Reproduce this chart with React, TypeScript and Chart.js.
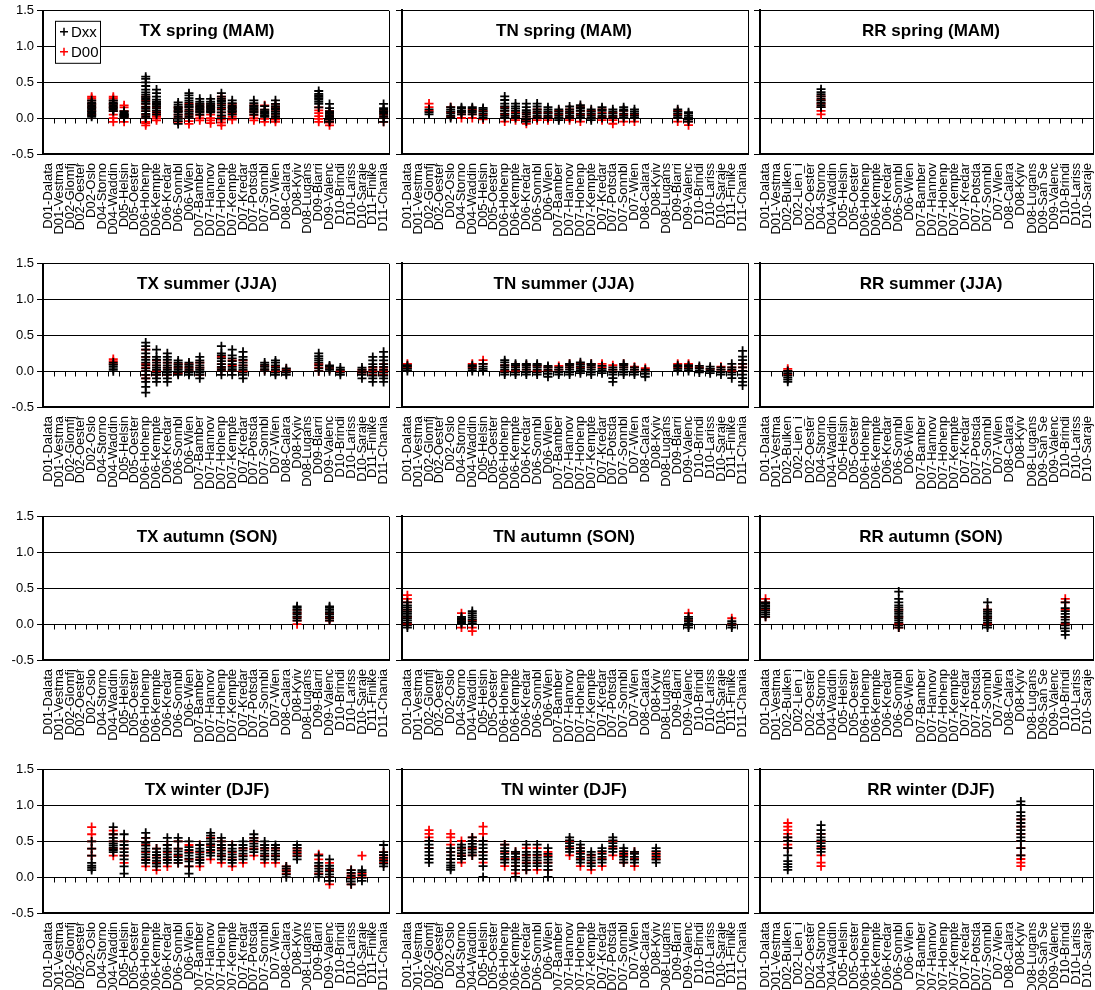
import React, { useEffect, useRef } from 'react';
import { Chart, registerables } from 'chart.js';
Chart.register(...registerables);

Chart.defaults.font.family = "'Liberation Sans', Arial, sans-serif";
Chart.defaults.color = '#000';

const TXTN_LABELS = ['D01-Dalata','D01-Vestma','D02-Glomfj','D02-Oester','D02-Oslo','D04-Storno','D04-Waddin','D05-Helsin','D05-Oester','D06-Hohenp','D06-Kempte','D06-Kredar','D06-Sonnbl','D06-Wien','D07-Bamber','D07-Hannov','D07-Hohenp','D07-Kempte','D07-Kredar','D07-Potsda','D07-Sonnbl','D07-Wien','D08-Calara','D08-Kyiv','D08-Lugans','D09-Biarri','D09-Valenc','D10-Brindi','D10-Lariss','D10-Saraje','D11-Finike','D11-Chania'];
const RR_LABELS = ['D01-Dalata','D01-Vestma','D02-Bulken','D02-Lien_i','D02-Oester','D04-Storno','D04-Waddin','D05-Helsin','D05-Oester','D06-Hohenp','D06-Kempte','D06-Kredar','D06-Sonnbl','D06-Wien','D07-Bamber','D07-Hannov','D07-Hohenp','D07-Kempte','D07-Kredar','D07-Potsda','D07-Sonnbl','D07-Wien','D08-Calara','D08-Kyiv','D08-Lugans','D09-San Se','D09-Valenc','D10-Brindi','D10-Lariss','D10-Saraje'];
const Y_MIN = -0.5;
const Y_MAX = 1.5;
const Y_STEP = 0.5;

type Cluster = [number, number[]];

// ---- spring (MAM)
const TX_MAM_DXX: Cluster[] = [
  [4, [0.02,0.04,0.06,0.08,0.1,0.12,0.14,0.16,0.18,0.2,0.22,0.25]],
  [6, [0.1,0.12,0.14,0.16,0.18,0.2,0.22,0.25]],
  [7, [0.0,0.02,0.03,0.04,0.05,0.06,0.08,0.1]],
  [9, [0.0,0.03,0.06,0.1,0.13,0.16,0.2,0.23,0.26,0.28,0.3,0.33,0.36,0.4,0.45,0.5,0.55,0.58]],
  [10, [0.05,0.08,0.11,0.14,0.17,0.19,0.21,0.23,0.26,0.3,0.35,0.4]],
  [12, [-0.08,-0.04,-0.01,0.02,0.05,0.08,0.1,0.12,0.14,0.16,0.19,0.22]],
  [13, [0.0,0.03,0.06,0.09,0.12,0.15,0.17,0.19,0.22,0.25,0.28,0.32,0.35]],
  [14, [0.05,0.08,0.1,0.12,0.14,0.16,0.18,0.2,0.23,0.27]],
  [15, [0.08,0.1,0.12,0.14,0.16,0.18,0.2,0.23,0.27]],
  [16, [0.0,0.04,0.08,0.12,0.15,0.18,0.21,0.24,0.27,0.3,0.35]],
  [17, [0.05,0.08,0.1,0.12,0.14,0.16,0.18,0.21,0.25]],
  [19, [0.05,0.08,0.1,0.12,0.14,0.16,0.18,0.21,0.25]],
  [20, [0.02,0.04,0.06,0.08,0.1,0.12,0.17]],
  [21, [0.0,0.03,0.06,0.09,0.12,0.14,0.17,0.2,0.25]],
  [25, [0.15,0.2,0.23,0.26,0.28,0.3,0.32,0.34,0.38]],
  [26, [-0.05,-0.02,0.0,0.02,0.04,0.06,0.08,0.1,0.14,0.2]],
  [31, [-0.05,0.0,0.03,0.06,0.08,0.1,0.12,0.14,0.2]],
];
const TX_MAM_D00: Cluster[] = [
  [4, [0.05,0.1,0.15,0.2,0.25,0.28,0.3]],
  [6, [-0.05,0.0,0.05,0.1,0.15,0.2,0.25,0.28,0.3]],
  [7, [-0.05,0.0,0.05,0.1,0.15,0.18]],
  [9, [-0.1,-0.07,-0.05,0.0,0.05,0.1,0.15,0.2,0.25,0.3]],
  [10, [-0.03,0.0,0.03,0.06,0.1,0.15,0.2]],
  [12, [-0.05,0.0,0.05,0.1,0.15]],
  [13, [-0.08,-0.04,0.0,0.05,0.1,0.15,0.2]],
  [14, [-0.03,0.0,0.04,0.08,0.12,0.16,0.2]],
  [15, [-0.07,-0.03,0.0,0.05,0.1,0.15,0.2]],
  [16, [-0.1,-0.06,-0.02,0.03,0.08,0.14,0.2,0.25,0.3]],
  [17, [-0.02,0.02,0.06,0.1,0.15,0.2]],
  [19, [-0.03,0.0,0.04,0.08,0.12,0.18]],
  [20, [-0.05,-0.01,0.03,0.07,0.12,0.18]],
  [21, [-0.05,-0.02,0.02,0.06,0.1,0.15,0.2]],
  [25, [-0.05,-0.01,0.03,0.07,0.11,0.15]],
  [26, [-0.1,-0.06,-0.02,0.02,0.06,0.1]],
  [31, [-0.05,0.0,0.05,0.1]],
];
const TN_MAM_DXX: Cluster[] = [
  [2, [0.05,0.08,0.12]],
  [4, [0.0,0.03,0.06,0.09,0.12,0.15]],
  [5, [0.05,0.08,0.1,0.13,0.15]],
  [6, [0.05,0.08,0.1,0.13,0.15]],
  [7, [0.0,0.03,0.06,0.09,0.12,0.14]],
  [9, [0.0,0.03,0.06,0.1,0.13,0.16,0.2,0.25,0.3]],
  [10, [0.0,0.03,0.06,0.1,0.13,0.16,0.2]],
  [11, [-0.05,-0.02,0.02,0.05,0.08,0.11,0.15,0.2]],
  [12, [0.0,0.03,0.06,0.09,0.12,0.16,0.2]],
  [13, [0.0,0.03,0.06,0.09,0.12,0.15]],
  [14, [-0.03,0.0,0.03,0.06,0.09,0.12]],
  [15, [0.0,0.03,0.06,0.09,0.12,0.16]],
  [16, [0.0,0.03,0.06,0.1,0.13,0.15,0.18]],
  [17, [-0.03,0.0,0.03,0.06,0.09,0.12]],
  [18, [0.0,0.03,0.06,0.1,0.12,0.15]],
  [19, [0.0,0.03,0.06,0.09,0.12]],
  [20, [0.0,0.03,0.06,0.1,0.12,0.15]],
  [21, [0.0,0.03,0.06,0.09,0.12]],
  [25, [0.0,0.03,0.06,0.09,0.12]],
  [26, [-0.05,-0.02,0.0,0.03,0.06,0.08]],
];
const TN_MAM_D00: Cluster[] = [
  [2, [0.1,0.15,0.2]],
  [4, [0.02,0.08,0.15]],
  [5, [0.0,0.05,0.1]],
  [6, [0.0,0.05,0.12]],
  [7, [-0.02,0.05,0.1]],
  [9, [-0.05,0.0,0.05,0.1,0.15]],
  [10, [-0.03,0.02,0.08]],
  [11, [-0.08,-0.03,0.02,0.07]],
  [12, [-0.03,0.02,0.07,0.12]],
  [13, [-0.03,0.02,0.07]],
  [14, [0.0,0.05,0.1]],
  [15, [-0.03,0.02,0.07,0.12]],
  [16, [-0.05,0.0,0.05,0.1,0.15]],
  [17, [0.0,0.05,0.1]],
  [18, [-0.03,0.02,0.07,0.12]],
  [19, [-0.08,-0.03,0.02,0.07]],
  [20, [-0.05,0.0,0.05,0.1]],
  [21, [-0.05,0.0,0.05]],
  [25, [-0.05,0.0,0.05,0.1]],
  [26, [-0.1,-0.05,0.0]],
];
const RR_MAM_DXX: Cluster[] = [[5, [0.15,0.18,0.21,0.24,0.27,0.3,0.33,0.36,0.4]]];
const RR_MAM_D00: Cluster[] = [[5, [0.05,0.1,0.15,0.2,0.25,0.3]]];

// ---- summer (JJA)
const TX_JJA_DXX: Cluster[] = [
  [6, [0.0,0.03,0.06,0.09,0.12]],
  [9, [-0.3,-0.22,-0.15,-0.1,-0.05,0.0,0.04,0.08,0.12,0.16,0.2,0.25,0.3,0.35,0.4]],
  [10, [-0.15,-0.1,-0.05,-0.02,0.02,0.05,0.08,0.12,0.16,0.2,0.3]],
  [11, [-0.15,-0.1,-0.05,-0.02,0.02,0.05,0.08,0.12,0.16,0.2,0.25]],
  [12, [-0.05,-0.02,0.0,0.03,0.06,0.09,0.12,0.15]],
  [13, [-0.05,-0.02,0.0,0.03,0.06,0.09,0.12]],
  [14, [-0.1,-0.05,-0.02,0.02,0.05,0.08,0.12,0.15,0.2]],
  [16, [-0.05,0.0,0.03,0.06,0.1,0.14,0.18,0.22,0.25,0.35]],
  [17, [-0.05,0.0,0.03,0.06,0.1,0.14,0.18,0.22,0.3]],
  [18, [-0.1,-0.05,-0.02,0.02,0.05,0.08,0.12,0.16,0.2,0.27]],
  [20, [0.0,0.03,0.06,0.09,0.12]],
  [21, [-0.05,-0.02,0.02,0.05,0.08,0.12,0.15]],
  [22, [-0.05,-0.02,0.01,0.04]],
  [25, [0.0,0.04,0.08,0.12,0.15,0.18,0.21,0.25]],
  [26, [0.0,0.03,0.06,0.08]],
  [27, [-0.05,-0.02,0.02,0.05]],
  [29, [-0.1,-0.05,-0.02,0.02,0.05]],
  [30, [-0.15,-0.1,-0.06,-0.02,0.02,0.06,0.1,0.15,0.2]],
  [31, [-0.15,-0.1,-0.06,-0.02,0.02,0.06,0.1,0.15,0.2,0.27]],
];
const TX_JJA_D00: Cluster[] = [
  [6, [0.1,0.14,0.17]],
  [9, [-0.1,-0.05,0.0,0.05,0.1,0.2,0.3]],
  [10, [-0.05,0.0,0.08,0.15]],
  [11, [-0.05,0.05,0.12]],
  [12, [-0.03,0.05,0.1]],
  [13, [0.0,0.05,0.1]],
  [14, [-0.05,0.05,0.12]],
  [16, [0.0,0.05,0.1,0.2]],
  [17, [0.0,0.08,0.15]],
  [18, [0.0,0.08,0.15]],
  [20, [0.02,0.07]],
  [21, [0.0,0.06]],
  [22, [0.0,0.03]],
  [25, [0.0,0.05,0.1]],
  [26, [0.03,0.06]],
  [27, [0.0]],
  [29, [-0.02,0.02]],
  [30, [-0.05,0.0,0.05]],
  [31, [-0.05,0.0,0.05,0.1]],
];
const TN_JJA_DXX: Cluster[] = [
  [0, [0.0,0.03,0.06,0.08]],
  [6, [0.0,0.03,0.06,0.08]],
  [7, [0.0,0.03,0.06,0.1]],
  [9, [-0.05,-0.02,0.02,0.05,0.08,0.12,0.15]],
  [10, [-0.05,-0.02,0.02,0.05,0.08,0.1]],
  [11, [-0.05,-0.02,0.02,0.05,0.08,0.1]],
  [12, [-0.05,-0.02,0.02,0.05,0.08,0.1]],
  [13, [-0.08,-0.04,-0.01,0.02,0.05,0.07]],
  [14, [-0.05,-0.02,0.02,0.05]],
  [15, [-0.05,-0.02,0.02,0.05,0.08,0.1]],
  [16, [-0.03,0.0,0.03,0.06,0.09,0.12]],
  [17, [-0.05,-0.02,0.02,0.05,0.08,0.1]],
  [18, [-0.03,0.0,0.03,0.07]],
  [19, [-0.15,-0.1,-0.05,-0.02,0.02,0.05]],
  [20, [-0.05,-0.02,0.02,0.05,0.08,0.1]],
  [21, [-0.05,-0.02,0.02,0.05]],
  [22, [-0.08,-0.04,-0.01,0.02]],
  [25, [0.0,0.03,0.06,0.08]],
  [26, [0.0,0.03,0.06,0.08]],
  [27, [-0.02,0.01,0.04,0.07]],
  [28, [-0.03,0.0,0.03,0.06]],
  [29, [-0.05,-0.02,0.02,0.05]],
  [30, [-0.1,-0.05,-0.02,0.02,0.05,0.1]],
  [31, [-0.2,-0.15,-0.1,-0.05,0.0,0.05,0.1,0.15,0.2,0.28]],
];
const TN_JJA_D00: Cluster[] = [
  [0, [0.05,0.1]],
  [6, [0.05,0.1]],
  [7, [0.1,0.15]],
  [9, [0.0,0.08]],
  [10, [0.0,0.07]],
  [11, [0.02,0.08]],
  [12, [0.0,0.07]],
  [13, [0.0,0.05]],
  [14, [0.02,0.07]],
  [15, [0.05,0.1]],
  [16, [0.05,0.1]],
  [17, [0.05,0.1]],
  [18, [0.05,0.1]],
  [19, [0.02,0.08]],
  [20, [0.05,0.1]],
  [21, [0.02,0.06]],
  [22, [0.0,0.04]],
  [25, [0.05,0.1]],
  [26, [0.05,0.1]],
  [27, [0.05]],
  [28, [0.03]],
  [29, [0.02,0.06]],
  [30, [0.0,0.05]],
  [31, [0.0,0.05,0.1]],
];
const RR_JJA_DXX: Cluster[] = [[2, [-0.15,-0.12,-0.09,-0.06,-0.03,0.0]]];
const RR_JJA_D00: Cluster[] = [[2, [-0.05,0.0,0.03]]];

// ---- autumn (SON)
const TX_SON_DXX: Cluster[] = [
  [23, [0.05,0.08,0.11,0.14,0.17,0.2,0.23,0.25]],
  [26, [0.05,0.08,0.11,0.14,0.17,0.2,0.23,0.25]],
];
const TX_SON_D00: Cluster[] = [
  [23, [0.0,0.05,0.1,0.15,0.2]],
  [26, [0.05,0.1,0.15]],
];
const TN_SON_DXX: Cluster[] = [
  [0, [-0.05,-0.02,0.02,0.05,0.08,0.11,0.14,0.17,0.2,0.23,0.26,0.3]],
  [5, [0.0,0.02,0.04,0.06,0.08,0.1]],
  [6, [0.0,0.03,0.06,0.09,0.12,0.15,0.18]],
  [26, [-0.05,-0.02,0.01,0.04,0.07,0.1]],
  [30, [-0.05,-0.02,0.01,0.04]],
];
const TN_SON_D00: Cluster[] = [
  [0, [0.0,0.1,0.2,0.3,0.35,0.4]],
  [5, [-0.05,0.05,0.15]],
  [6, [-0.1,-0.05,0.05]],
  [26, [0.05,0.15]],
  [30, [0.0,0.08]],
];
const RR_SON_DXX: Cluster[] = [
  [0, [0.1,0.13,0.16,0.19,0.22,0.25,0.28,0.3]],
  [12, [-0.05,-0.02,0.02,0.05,0.08,0.11,0.14,0.17,0.2,0.23,0.26,0.3,0.35,0.45]],
  [20, [-0.05,-0.02,0.02,0.05,0.08,0.11,0.14,0.17,0.2,0.3]],
  [27, [-0.15,-0.1,-0.06,-0.02,0.02,0.06,0.1,0.14,0.18,0.22,0.3]],
];
const RR_SON_D00: Cluster[] = [
  [0, [0.1,0.2,0.3,0.35]],
  [12, [-0.05,0.0,0.1,0.2]],
  [20, [0.0,0.1,0.2]],
  [27, [0.0,0.1,0.2,0.3,0.35]],
];

// ---- winter (DJF)
const TX_DJF_DXX: Cluster[] = [
  [4, [0.1,0.13,0.16,0.2,0.3,0.4,0.5]],
  [6, [0.35,0.38,0.41,0.44,0.47,0.5,0.55,0.6,0.7]],
  [7, [0.05,0.15,0.25,0.3,0.35,0.4,0.45,0.5,0.6]],
  [9, [0.2,0.24,0.28,0.32,0.36,0.4,0.44,0.48,0.55,0.62]],
  [10, [0.15,0.19,0.23,0.27,0.31,0.35,0.4]],
  [11, [0.2,0.24,0.28,0.32,0.36,0.4,0.45,0.55]],
  [12, [0.2,0.24,0.28,0.32,0.36,0.4,0.5,0.55]],
  [13, [0.05,0.15,0.22,0.26,0.3,0.34,0.38,0.42,0.5]],
  [14, [0.2,0.24,0.28,0.32,0.36,0.4,0.45]],
  [15, [0.3,0.34,0.38,0.42,0.46,0.5,0.54,0.58,0.62]],
  [16, [0.25,0.29,0.33,0.37,0.41,0.45,0.5,0.55]],
  [17, [0.2,0.24,0.28,0.32,0.36,0.4,0.45]],
  [18, [0.25,0.29,0.33,0.37,0.41,0.45,0.5]],
  [19, [0.35,0.39,0.43,0.47,0.51,0.55,0.6]],
  [20, [0.25,0.29,0.33,0.37,0.41,0.45,0.5]],
  [21, [0.25,0.29,0.33,0.37,0.41,0.45]],
  [22, [0.0,0.04,0.08,0.12,0.15]],
  [23, [0.25,0.29,0.33,0.37,0.41,0.45]],
  [25, [0.0,0.04,0.08,0.12,0.16,0.2,0.3]],
  [26, [-0.05,0.0,0.04,0.08,0.12,0.16,0.25]],
  [28, [-0.1,-0.06,-0.02,0.02,0.06,0.1]],
  [29, [-0.05,-0.01,0.03,0.07,0.1]],
  [31, [0.15,0.19,0.23,0.27,0.31,0.35,0.45]],
];
const TX_DJF_D00: Cluster[] = [
  [4, [0.3,0.4,0.5,0.6,0.7]],
  [6, [0.3,0.4,0.5,0.6,0.65]],
  [7, [0.2,0.3,0.4,0.5]],
  [9, [0.15,0.25,0.35,0.45,0.55]],
  [10, [0.1,0.2,0.3,0.4]],
  [11, [0.15,0.25,0.35,0.45]],
  [12, [0.2,0.3,0.4,0.5]],
  [13, [0.15,0.25,0.35,0.45]],
  [14, [0.15,0.25,0.35,0.45]],
  [15, [0.25,0.35,0.45,0.55]],
  [16, [0.2,0.3,0.4,0.5]],
  [17, [0.15,0.25,0.35,0.45]],
  [18, [0.2,0.3,0.4]],
  [19, [0.3,0.4,0.5,0.55]],
  [20, [0.2,0.3,0.4,0.45]],
  [21, [0.2,0.3,0.4]],
  [22, [0.05,0.1,0.15]],
  [23, [0.3,0.35,0.4]],
  [25, [0.05,0.15,0.25,0.32]],
  [26, [-0.1,0.0,0.1,0.2]],
  [28, [-0.1,0.0,0.05,0.1]],
  [29, [0.0,0.05,0.3]],
  [31, [0.2,0.25,0.3,0.35]],
];
const TN_DJF_DXX: Cluster[] = [
  [2, [0.2,0.25,0.3,0.35,0.4,0.45,0.5]],
  [4, [0.1,0.13,0.16,0.2,0.25,0.3,0.35,0.4]],
  [5, [0.25,0.29,0.33,0.37,0.41,0.45]],
  [6, [0.3,0.34,0.38,0.42,0.46,0.5,0.55]],
  [7, [0.0,0.15,0.25,0.3,0.35,0.4,0.45,0.5]],
  [9, [0.2,0.24,0.28,0.32,0.36,0.4,0.45]],
  [10, [0.0,0.1,0.15,0.2,0.24,0.28,0.32,0.35]],
  [11, [0.1,0.15,0.19,0.23,0.27,0.31,0.35,0.45]],
  [12, [0.15,0.19,0.23,0.27,0.31,0.35,0.45]],
  [13, [0.0,0.1,0.15,0.2,0.24,0.28,0.32,0.4]],
  [15, [0.35,0.39,0.43,0.47,0.51,0.55]],
  [16, [0.2,0.24,0.28,0.32,0.36,0.4,0.45]],
  [17, [0.15,0.19,0.23,0.27,0.31,0.35]],
  [18, [0.2,0.24,0.28,0.32,0.36,0.4]],
  [19, [0.35,0.39,0.43,0.47,0.51,0.55]],
  [20, [0.2,0.24,0.28,0.32,0.36,0.4]],
  [21, [0.2,0.24,0.28,0.32,0.35]],
  [23, [0.2,0.24,0.28,0.32,0.36,0.4]],
];
const TN_DJF_D00: Cluster[] = [
  [2, [0.4,0.5,0.55,0.6,0.65]],
  [4, [0.25,0.35,0.45,0.55,0.6]],
  [5, [0.2,0.3,0.4,0.5]],
  [6, [0.3,0.4,0.5,0.55]],
  [7, [0.2,0.35,0.5,0.6,0.7]],
  [9, [0.15,0.25,0.35,0.45]],
  [10, [0.05,0.15,0.25,0.35]],
  [11, [0.1,0.2,0.3,0.4]],
  [12, [0.1,0.2,0.3,0.4]],
  [13, [0.1,0.2,0.3,0.35]],
  [15, [0.3,0.4,0.5]],
  [16, [0.15,0.25,0.35,0.4]],
  [17, [0.1,0.2,0.3]],
  [18, [0.15,0.25,0.35]],
  [19, [0.3,0.4,0.5]],
  [20, [0.2,0.3,0.35]],
  [21, [0.15,0.25,0.35]],
  [23, [0.25,0.3,0.35]],
];
const RR_DJF_DXX: Cluster[] = [
  [2, [0.1,0.14,0.18,0.22,0.3,0.4,0.5,0.55]],
  [5, [0.35,0.39,0.43,0.47,0.51,0.55,0.6,0.65,0.72]],
  [23, [0.3,0.4,0.5,0.55,0.6,0.65,0.7,0.75,0.8,0.85,0.9,1.0,1.05]],
];
const RR_DJF_D00: Cluster[] = [
  [2, [0.4,0.45,0.5,0.55,0.6,0.65,0.7,0.75]],
  [5, [0.15,0.2,0.3,0.4,0.5,0.6]],
  [23, [0.15,0.2,0.25,0.3,0.4,0.5,0.6,0.7,0.8]],
];

const TITLES = [
  ['TX spring (MAM)', 'TN spring (MAM)', 'RR spring (MAM)'],
  ['TX summer (JJA)', 'TN summer (JJA)', 'RR summer (JJA)'],
  ['TX autumn (SON)', 'TN autumn (SON)', 'RR autumn (SON)'],
  ['TX winter (DJF)', 'TN winter (DJF)', 'RR winter (DJF)'],
];
const SERIES_DXX = [
  [TX_MAM_DXX, TN_MAM_DXX, RR_MAM_DXX],
  [TX_JJA_DXX, TN_JJA_DXX, RR_JJA_DXX],
  [TX_SON_DXX, TN_SON_DXX, RR_SON_DXX],
  [TX_DJF_DXX, TN_DJF_DXX, RR_DJF_DXX],
];
const SERIES_D00 = [
  [TX_MAM_D00, TN_MAM_D00, RR_MAM_D00],
  [TX_JJA_D00, TN_JJA_D00, RR_JJA_D00],
  [TX_SON_D00, TN_SON_D00, RR_SON_D00],
  [TX_DJF_D00, TN_DJF_D00, RR_DJF_D00],
];
const COL_LABELS = [TXTN_LABELS, TXTN_LABELS, RR_LABELS];

// layout
const COL_LEFT = [43, 402, 760];
const COL_W = [346, 346, 333];
const ROW_TOP = [10, 263, 516, 769];
const PLOT_H = 144;
const Y_AXIS_W = 43;
const PAD_TOP = 10;
const PAD_RIGHT = 24;
const X_AXIS_H = 110;
const TITLE_DX = [164, 162, 171];

function toPoints(clusters: Cluster[], labels: string[]) {
  const pts: { x: string; y: number }[] = [];
  clusters.forEach(([i, vals]) => vals.forEach((v) => pts.push({ x: labels[i], y: v })));
  return pts;
}

const framePlugin = {
  id: 'frame',
  beforeDatasetsDraw(chart: any) {
    const { ctx, chartArea: a, scales } = chart;
    const x = scales.x, y = scales.y;
    const y0 = Math.round(y.getPixelForValue(0)) + 0.5;
    ctx.save();
    ctx.strokeStyle = '#000';
    ctx.lineWidth = 1;
    ctx.beginPath();
    ctx.moveTo(a.left, y0);
    ctx.lineTo(a.right, y0);
    const n = x.getLabels().length;
    for (let i = 0; i <= n; i++) {
      const px = Math.round(x.getPixelForValue(i - 0.5)) + 0.5;
      ctx.moveTo(px, y0);
      ctx.lineTo(px, y0 + 5);
    }
    const r = Math.round(a.right) + 0.5;
    ctx.moveTo(r, a.top);
    ctx.lineTo(r, a.bottom);
    ctx.stroke();
    ctx.restore();
  },
  afterDraw(chart: any, _args: any, opts: any) {
    const { ctx, chartArea: a } = chart;
    ctx.save();
    ctx.fillStyle = '#000';
    ctx.font = "bold 17px 'Liberation Sans', Arial, sans-serif";
    ctx.textAlign = 'center';
    ctx.textBaseline = 'middle';
    ctx.fillText(opts.title, a.left + opts.titleDx, a.top + 21);
    if (opts.legend) {
      const lx = a.left + 12, ly = a.top + 10;
      ctx.fillStyle = '#fff';
      ctx.fillRect(lx, ly, 45, 42);
      ctx.strokeStyle = '#000';
      ctx.lineWidth = 1;
      ctx.strokeRect(lx + 0.5, ly + 0.5, 45, 42);
      const items: [string, string][] = [['Dxx', '#000'], ['D00', '#ff0000']];
      items.forEach(([t, c], k) => {
        const cy = ly + 11 + k * 20;
        ctx.strokeStyle = c;
        ctx.lineWidth = 1.5;
        ctx.beginPath();
        ctx.moveTo(lx + 5, cy); ctx.lineTo(lx + 13, cy);
        ctx.moveTo(lx + 9, cy - 4); ctx.lineTo(lx + 9, cy + 4);
        ctx.stroke();
        ctx.fillStyle = '#000';
        ctx.font = "15px 'Liberation Sans', Arial, sans-serif";
        ctx.textAlign = 'left';
        ctx.fillText(t, lx + 16, cy + 1);
      });
    }
    ctx.restore();
  },
};

function Panel({ row, col }: { row: number; col: number }) {
  const ref = useRef<HTMLCanvasElement>(null);
  const width = Y_AXIS_W + COL_W[col] + PAD_RIGHT;
  const height = PAD_TOP + PLOT_H + X_AXIS_H;
  const left = COL_LEFT[col] - Y_AXIS_W;
  const top = ROW_TOP[row] - PAD_TOP;
  useEffect(() => {
    const labels = COL_LABELS[col];
    const chart = new Chart(ref.current as HTMLCanvasElement, {
      type: 'scatter',
      data: {
        labels,
        datasets: [
          {
            label: 'Dxx',
            data: toPoints(SERIES_DXX[row][col], labels) as any,
            pointStyle: 'cross',
            pointRadius: 4.5,
            pointBorderWidth: 1.8,
            borderColor: '#000000',
            backgroundColor: '#000000',
          },
          {
            label: 'D00',
            data: toPoints(SERIES_D00[row][col], labels) as any,
            pointStyle: 'cross',
            pointRadius: 4.5,
            pointBorderWidth: 1.8,
            borderColor: '#ff0000',
            backgroundColor: '#ff0000',
          },
        ],
      },
      options: {
        responsive: false,
        animation: false,
        devicePixelRatio: 1,
        layout: { padding: { top: PAD_TOP, right: PAD_RIGHT, left: 0, bottom: 0 } },
        plugins: {
          legend: { display: false },
          tooltip: { enabled: false },
          frame: { title: TITLES[row][col], titleDx: TITLE_DX[col], legend: row === 0 && col === 0 },
        } as any,
        scales: {
          x: {
            type: 'category',
            offset: true,
            grid: { display: false, drawTicks: false },
            border: { display: true, color: '#000', width: 2 },
            ticks: {
              autoSkip: false,
              maxRotation: 90,
              minRotation: 90,
              padding: 9,
              color: '#000',
              font: { size: 13 },
            },
            afterFit: (s: any) => { s.height = X_AXIS_H; },
          },
          y: {
            type: 'linear',
            min: Y_MIN,
            max: Y_MAX,
            ticks: {
              stepSize: Y_STEP,
              display: col === 0,
              padding: 3,
              color: '#000',
              font: { size: 13 },
              callback: (v: any) => Number(v).toFixed(1),
            },
            grid: { color: '#000', lineWidth: 1, tickLength: 6, drawTicks: true },
            border: { color: '#000', width: 2 },
            afterFit: (s: any) => { s.width = Y_AXIS_W; },
          },
        },
      },
      plugins: [framePlugin],
    });
    return () => chart.destroy();
  }, [row, col]);
  return (
    <canvas
      ref={ref}
      width={width}
      height={height}
      style={{ position: 'absolute', left, top, width, height }}
    />
  );
}

export default function App() {
  const cells: React.ReactNode[] = [];
  for (let r = 0; r < 4; r++) for (let c = 0; c < 3; c++) cells.push(<Panel key={`${r}-${c}`} row={r} col={c} />);
  return (
    <div style={{ position: 'absolute', left: 0, top: 0, width: 1095, height: 990, overflow: 'hidden', background: '#fff' }}>
      {cells}
    </div>
  );
}
